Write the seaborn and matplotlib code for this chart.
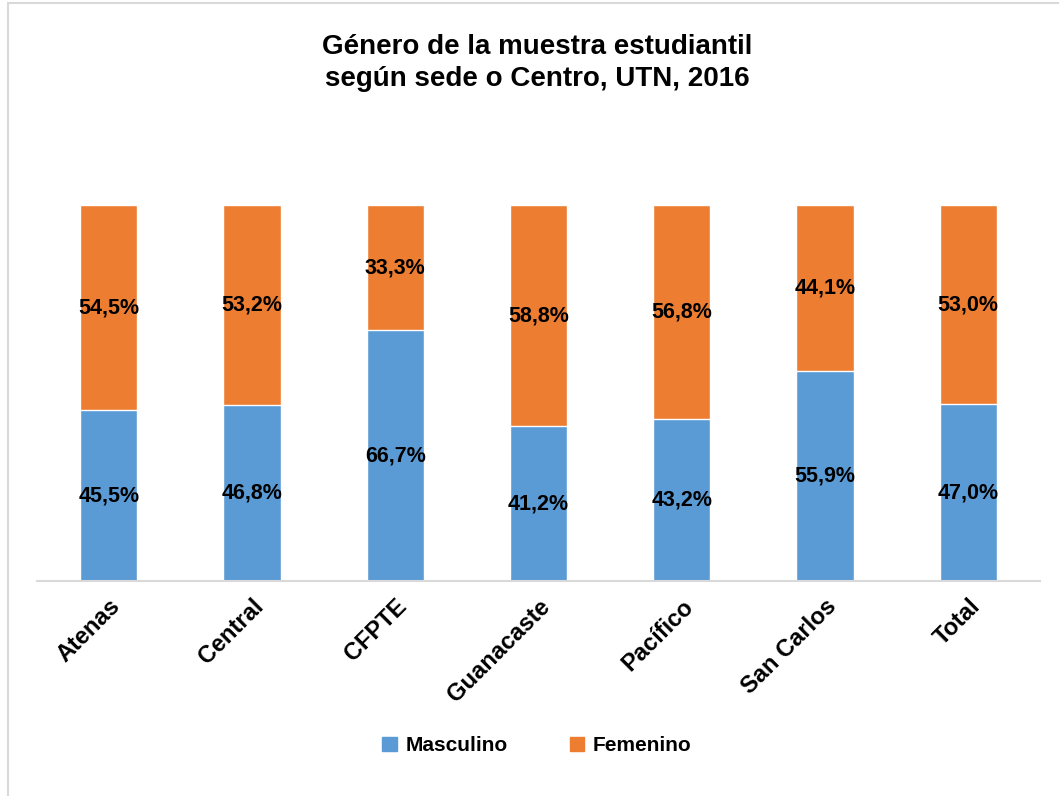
import pandas as pd
import numpy as np
import seaborn as sns
import matplotlib.pyplot as plt
from matplotlib.patches import Rectangle, Patch

sedes = ["Atenas", "Central", "CFPTE", "Guanacaste", "Pacífico", "San Carlos", "Total"]
masculino = [45.5, 46.8, 66.7, 41.2, 43.2, 55.9, 47.0]
femenino = [54.5, 53.2, 33.3, 58.8, 56.8, 44.1, 53.0]

azul = "#5B9BD5"
naranja = "#ED7D31"

df = pd.DataFrame({"sede": sedes, "Masculino": masculino, "Femenino": femenino})
df["total"] = df["Masculino"] + df["Femenino"]

sns.set_style("white")
plt.rcParams['font.family'] = ['Liberation Sans', 'DejaVu Sans']
plt.rcParams['text.color'] = 'black'
plt.rcParams['xtick.color'] = 'black'

fig = plt.figure(figsize=(10.59, 7.96), dpi=100)
ax = fig.add_axes([0.035, 0.270, 0.947, 0.472])

sns.barplot(data=df, x="sede", y="total", color=naranja, width=0.4, ax=ax, saturation=1)
sns.barplot(data=df, x="sede", y="Masculino", color=azul, width=0.4, ax=ax, saturation=1)

ax.set_ylim(0, 100)
ax.set_xlim(-0.5, len(sedes) - 0.5)

def fmt(v):
    return f"{v:.1f}%".replace(".", ",")

for i, (m, f) in enumerate(zip(masculino, femenino)):
    ax.text(i, m / 2, fmt(m), ha="center", va="center", fontsize=15.5, fontweight="bold", color="black")
    ax.text(i, m + f / 2, fmt(f), ha="center", va="center", fontsize=15.5, fontweight="bold", color="black")

ax.set_xlabel("")
ax.set_ylabel("")
ax.set_yticks([])
ax.tick_params(axis="x", length=0, pad=10)
plt.setp(ax.get_xticklabels(), rotation=45, ha="right", rotation_mode="anchor",
         fontsize=17, fontweight="bold", color="black")
for s in ["top", "right", "left"]:
    ax.spines[s].set_visible(False)
ax.spines["bottom"].set_color("#D9D9D9")
ax.spines["bottom"].set_linewidth(1.5)

fig.text(0.507, 0.957, "Género de la muestra estudiantil\nsegún sede o Centro, UTN, 2016",
         ha="center", va="top", fontsize=20, fontweight="bold", linespacing=1.3, color="black")

handles = [Patch(color=azul, label="Masculino"), Patch(color=naranja, label="Femenino")]
fig.legend(handles=handles, loc="center", bbox_to_anchor=(0.507, 0.063), ncol=2, frameon=False,
           prop={"size": 15, "weight": "bold"}, handlelength=0.7, handleheight=0.7,
           columnspacing=3, handletextpad=0.4, labelcolor="black")

fig.patches.append(Rectangle((0.008, -0.05), 1.2, 1.046, transform=fig.transFigure,
                             fill=False, edgecolor="#D9D9D9", linewidth=1.5))

fig.savefig("out.png", dpi=100)
